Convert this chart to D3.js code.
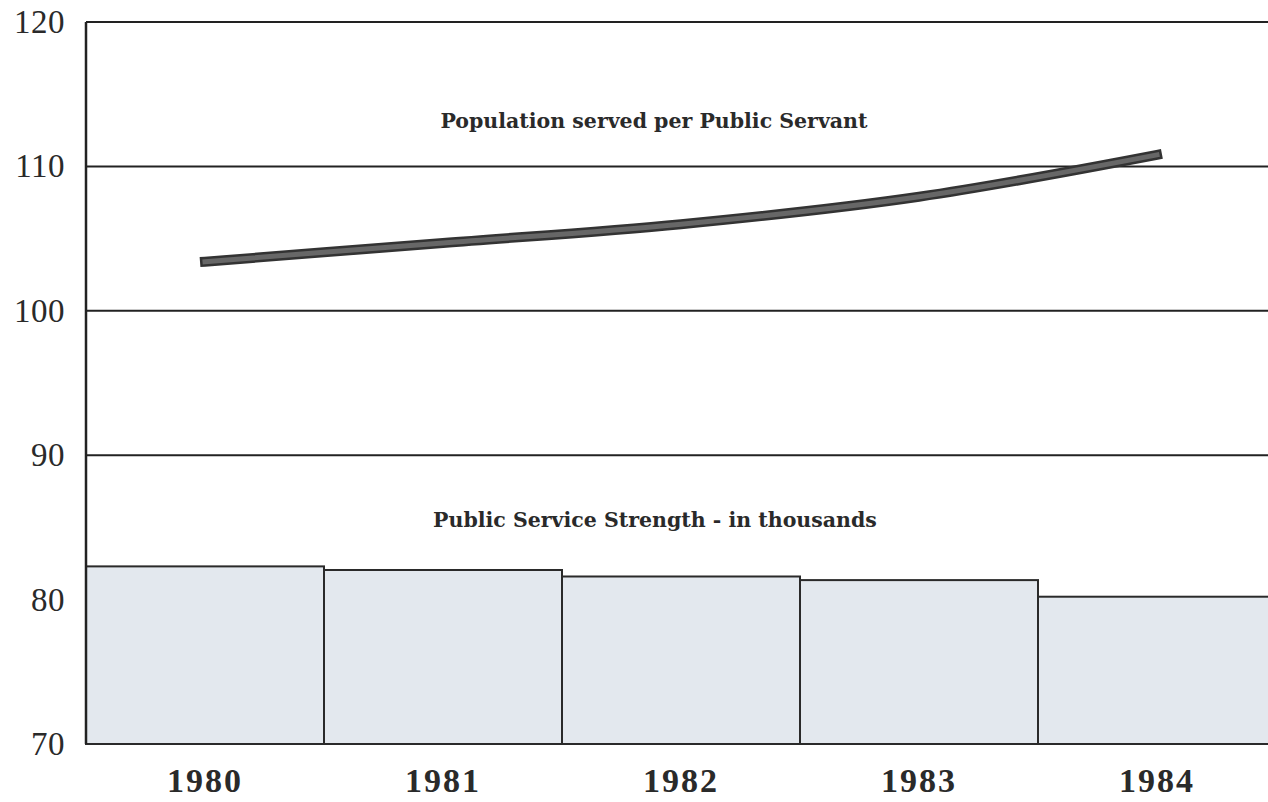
<!DOCTYPE html>
<html>
<head>
<meta charset="utf-8">
<script src="https://cdn.jsdelivr.net/npm/d3@7/dist/d3.min.js"></script>
<style>
  html, body { margin: 0; padding: 0; background: #fff; }
  svg { display: block; }
</style>
</head>
<body>
<svg id="chart" width="1268" height="802"></svg>
<script>
// Years along the bottom
const years = ["1980", "1981", "1982", "1983", "1984"];
// Public service strength (thousands) – bars
const strength = [82.3, 82.05, 81.6, 81.35, 80.2];
// Population served per public servant – line
const perServant = [103.4, 104.7, 106.0, 107.9, 110.8];
// Left axis ticks
const yTicks = [70, 80, 90, 100, 110, 120];

const svg = d3.select("#chart");
const plotLeft = 86, plotRight = 1276, plotTop = 22, plotBottom = 744;

const x = d3.scaleBand().domain(years).range([plotLeft, plotRight]).padding(0);
const y = d3.scaleLinear().domain([70, 120]).range([plotBottom, plotTop]);

const serif = "'Liberation Serif', 'DejaVu Serif', serif";
const wideSerif = "'DejaVu Serif', 'Liberation Serif', serif";

// Horizontal rules
svg.append("g")
  .selectAll("line")
  .data(yTicks)
  .join("line")
  .attr("x1", plotLeft).attr("x2", 1268)
  .attr("y1", d => y(d)).attr("y2", d => y(d))
  .attr("stroke", "#222").attr("stroke-width", 2);

// Bars
svg.append("g")
  .selectAll("rect")
  .data(years)
  .join("rect")
  .attr("x", d => x(d))
  .attr("width", x.bandwidth())
  .attr("y", (d, i) => y(strength[i]))
  .attr("height", (d, i) => y(70) - y(strength[i]))
  .attr("fill", "#e3e8ee")
  .attr("stroke", "#2a2a2a")
  .attr("stroke-width", 2);

// Left axis line
svg.append("line")
  .attr("x1", plotLeft).attr("x2", plotLeft)
  .attr("y1", y(120)).attr("y2", y(70))
  .attr("stroke", "#222").attr("stroke-width", 2.5);

// Y labels
const yAxis = d3.axisLeft(y).tickValues(yTicks).tickSize(0).tickPadding(21);
const ya = svg.append("g").attr("transform", `translate(${plotLeft},0)`).call(yAxis);
ya.select(".domain").remove();
ya.selectAll("text")
  .attr("font-family", serif)
  .attr("font-size", 33)
  .attr("letter-spacing", 0.5)
  .attr("fill", "#2a2a2a");

// X labels
const xAxis = d3.axisBottom(x).tickSize(0).tickPadding(24);
const xa = svg.append("g").attr("transform", `translate(0,${plotBottom})`).call(xAxis);
xa.select(".domain").remove();
xa.selectAll("text")
  .attr("font-family", serif)
  .attr("font-weight", "bold")
  .attr("font-size", 34)
  .attr("letter-spacing", 2)
  .attr("fill", "#2a2a2a");

// Population line
const line = d3.line()
  .x((d, i) => x(years[i]) + x.bandwidth() / 2)
  .y(d => y(d))
  .curve(d3.curveMonotoneX);

svg.append("path")
  .datum(perServant)
  .attr("d", line)
  .attr("fill", "none")
  .attr("stroke", "#333")
  .attr("stroke-linecap", "square")
  .attr("stroke-width", 10);
svg.append("path")
  .datum(perServant)
  .attr("d", line)
  .attr("fill", "none")
  .attr("stroke", "#676767")
  .attr("stroke-linecap", "square")
  .attr("stroke-width", 5);

// Series captions
svg.append("text")
  .attr("x", 654).attr("y", 128)
  .attr("text-anchor", "middle")
  .attr("font-family", wideSerif)
  .attr("font-weight", "bold")
  .attr("font-size", 20.5)
  .attr("fill", "#2a2a2a")
  .text("Population served per Public Servant");

svg.append("text")
  .attr("x", 655).attr("y", 527)
  .attr("text-anchor", "middle")
  .attr("font-family", wideSerif)
  .attr("font-weight", "bold")
  .attr("font-size", 20.5)
  .attr("fill", "#2a2a2a")
  .text("Public Service Strength - in thousands");
</script>
</body>
</html>
